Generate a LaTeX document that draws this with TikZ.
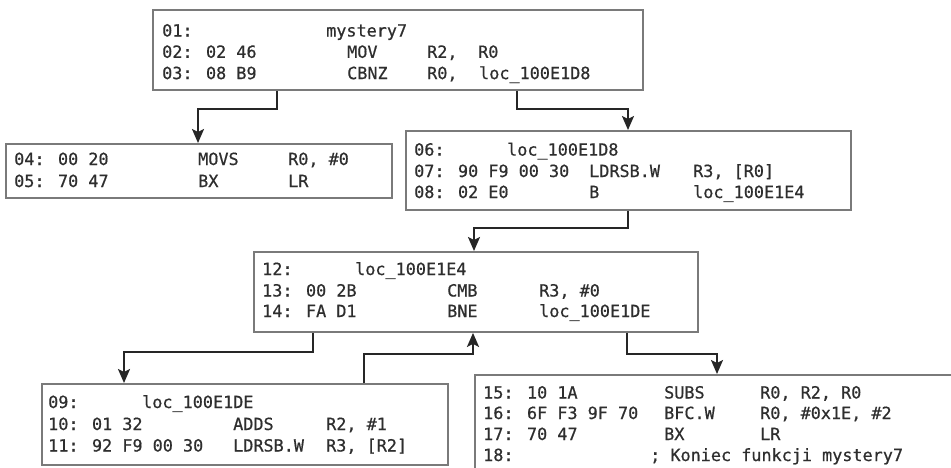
\documentclass[tikz,border=0pt]{standalone}
\usepackage{fontspec}
\newfontfamily\codefont[FakeBold=0.6]{DejaVu Sans Mono}
\usetikzlibrary{arrows.meta}
\definecolor{boxc}{HTML}{7A7A7A}
\definecolor{txtc}{HTML}{2E2E2E}
\definecolor{arrc}{HTML}{262626}
\newcommand\mkc[2]{\makebox[#1pt][l]{#2}}
\tikzset{
  codebox/.style={draw=boxc, line width=1.9pt, rectangle, inner sep=0pt, anchor=north west},
  codeline/.style={anchor=base west, inner sep=0pt, text=txtc, font=\codefont\fontsize{16.8}{20}\selectfont},
  conn/.style={draw=arrc, line width=2.1pt, -{Stealth[length=14pt,width=12pt,inset=3pt]}}
}
\begin{document}
\begin{tikzpicture}[x=1pt,y=-1pt]
\useasboundingbox (0,0) rectangle (951,467);
\clip (0,0) rectangle (951,467);
\fill[white] (0,0) rectangle (951,467);
% boxes
\node[codebox, minimum width=490pt, minimum height=80pt] (b1) at (152,9) {};
\node[codebox, minimum width=386pt, minimum height=54pt] (b2) at (5,143) {};
\node[codebox, minimum width=445pt, minimum height=79pt] (b3) at (405,130) {};
\node[codebox, minimum width=444pt, minimum height=80pt] (b4) at (253,251) {};
\node[codebox, minimum width=406pt, minimum height=81pt] (b5) at (41,383) {};
\node[codebox, minimum width=500pt, minimum height=120pt] (b6) at (474,374) {};
% box 1
\node[codeline] (b1l1) at (162,36.5) {\mkc{164}{01:}mystery7};
\node[codeline] (b1l2) at (162,57.8) {\mkc{185}{02: 02 46}\mkc{80}{MOV}\mkc{51}{R2,}R0};
\node[codeline] (b1l3) at (162,79.1) {\mkc{185}{03: 08 B9}\mkc{80}{CBNZ}\mkc{52}{R0,}loc\_100E1D8};
% box 2
\node[codeline] (b2l1) at (14,165) {\mkc{184}{04: 00 20}\mkc{90}{MOVS}R0, \#0};
\node[codeline] (b2l2) at (14,187) {\mkc{184}{05: 70 47}\mkc{90}{BX}LR};
% box 3
\node[codeline] (b3l1) at (414,155.6) {\mkc{93}{06:}loc\_100E1D8};
\node[codeline] (b3l2) at (414,177) {\mkc{175}{07: 90 F9 00 30}\mkc{104}{LDRSB.W}R3, [R0]};
\node[codeline] (b3l3) at (414,198) {\mkc{175}{08: 02 E0}\mkc{104}{B}loc\_100E1E4};
% box 4
\node[codeline] (b4l1) at (262,275) {\mkc{93}{12:}loc\_100E1E4};
\node[codeline] (b4l2) at (262,296.5) {\mkc{185}{13: 00 2B}\mkc{92}{CMB}R3, \#0};
\node[codeline] (b4l3) at (262,317) {\mkc{185}{14: FA D1}\mkc{92}{BNE}loc\_100E1DE};
% box 5
\node[codeline] (b5l1) at (48,408) {\mkc{94}{09:}loc\_100E1DE};
\node[codeline] (b5l2) at (48,430) {\mkc{185}{10: 01 32}\mkc{93}{ADDS}R2, \#1};
\node[codeline] (b5l3) at (48,451.5) {\mkc{185}{11: 92 F9 00 30}\mkc{93}{LDRSB.W}R3, [R2]};
% box 6
\node[codeline] (b6l1) at (483,398.5) {\mkc{181}{15: 10 1A}\mkc{96}{SUBS}R0, R2, R0};
\node[codeline] (b6l2) at (483,419) {\mkc{181}{16: 6F F3 9F 70}\mkc{96}{BFC.W}R0, \#0x1E, \#2};
\node[codeline] (b6l3) at (483,440) {\mkc{181}{17: 70 47}\mkc{96}{BX}LR};
\node[codeline] (b6l4) at (483,461) {\mkc{167}{18:}; Koniec funkcji mystery7};
% connectors
\draw[conn] ([xshift=125pt]b1.south west) -- ++(0,18) -| ([xshift=193pt]b2.north west);
\draw[conn] ([xshift=365pt]b1.south west) -- ++(0,18) -| ([xshift=223pt]b3.north west);
\draw[conn] ([xshift=223pt]b3.south west) -- ++(0,17) -| ([xshift=221pt]b4.north west);
\draw[conn] ([xshift=60pt]b4.south west) -- ++(0,19) -| ([xshift=83pt]b5.north west);
\draw[conn] ([xshift=323pt]b5.north west) -- ++(0,-29) -| ([xshift=220pt]b4.south west);
\draw[conn] ([xshift=374pt]b4.south west) -- ++(0,21) -| ([xshift=243pt]b6.north west);
\end{tikzpicture}
\end{document}
